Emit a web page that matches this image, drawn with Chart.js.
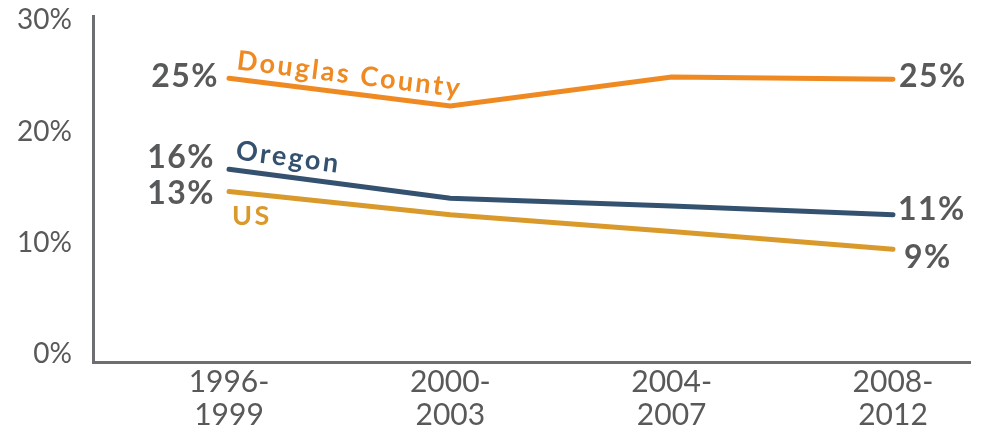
<!DOCTYPE html>
<html>
<head>
<meta charset="utf-8">
<title>Douglas County, Oregon and US</title>
<script src="https://cdn.jsdelivr.net/npm/chart.js@4.4.1/dist/chart.umd.min.js"></script>
<style>
  body { margin: 0; background: #fff; }
  #wrap { width: 986px; height: 431px; }
</style>
</head>
<body>
<div id="wrap"><canvas id="line-chart" width="986" height="431"></canvas></div>
<script>
  const periods = [['1996-', '1999'], ['2000-', '2003'], ['2004-', '2007'], ['2008-', '2012']];
  const douglas = [24.8, 22.3, 24.9, 24.7];
  const oregon = [16.6, 14.0, 13.3, 12.5];
  const us = [14.6, 12.5, 11.0, 9.4];
  const firstLabels = [25, 16, 13];
  const lastLabels = [25, 11, 9];
  const yTicks = [0, 10, 20, 30];

  const gray = '#58595b';
  const axisGray = '#6d6e71';
  const family = 'Lato, "DejaVu Sans", sans-serif';

  // text placement relative to the first / last point of each line
  const series = [
    { name: 'Douglas County', color: '#ef8a22', values: douglas, start: [-10, 9], end: [6, 8], nameAt: [7, -9], rotate: true },
    { name: 'Oregon', color: '#34526f', values: oregon, start: [-14, -1], end: [5, 5], nameAt: [6, -10], rotate: true },
    { name: 'US', color: '#d99a2b', values: us, start: [-14, 13], end: [11, 19], nameAt: [3, 34], rotate: false }
  ];

  const lineLabels = {
    id: 'lineLabels',
    afterDatasetsDraw(chart) {
      const ctx = chart.ctx;
      series.forEach((s, i) => {
        const pts = chart.getDatasetMeta(i).data;
        const p0 = pts[0], p1 = pts[1], pn = pts[pts.length - 1];
        ctx.save();
        ctx.fillStyle = gray;
        ctx.font = 'bold 32px ' + family;
        ctx.letterSpacing = '1.5px';
        ctx.textBaseline = 'alphabetic';
        ctx.textAlign = 'right';
        ctx.fillText(firstLabels[i] + '%', p0.x + s.start[0], p0.y + s.start[1]);
        ctx.textAlign = 'left';
        ctx.fillText(lastLabels[i] + '%', pn.x + s.end[0], pn.y + s.end[1]);

        ctx.fillStyle = s.color;
        ctx.font = 'bold 27px ' + family;
        ctx.letterSpacing = '2.5px';
        ctx.translate(p0.x + s.nameAt[0], p0.y + s.nameAt[1]);
        if (s.rotate) ctx.rotate(Math.atan2(p1.y - p0.y, p1.x - p0.x));
        ctx.fillText(s.name, 0, 0);
        ctx.restore();
      });
    }
  };

  new Chart(document.getElementById('line-chart'), {
    type: 'line',
    data: {
      datasets: series.map(s => ({
        label: s.name,
        data: s.values.map((v, i) => ({ x: i, y: v })),
        borderColor: s.color,
        borderWidth: 5,
        borderCapStyle: 'round',
        borderJoinStyle: 'miter',
        pointRadius: 0,
        tension: 0,
        fill: false
      }))
    },
    options: {
      responsive: false,
      animation: false,
      layout: { padding: { top: 16, right: 16, left: 0, bottom: 0 } },
      plugins: { legend: { display: false }, tooltip: { enabled: false } },
      scales: {
        x: {
          type: 'linear',
          min: -0.6145,
          max: 3.348,
          afterBuildTicks: sc => { sc.ticks = periods.map((p, i) => ({ value: i })); },
          afterFit: sc => { sc.height = 69; sc.paddingLeft = 0; sc.paddingRight = 0; },
          ticks: {
            callback: v => periods[v],
            font: { family: family, size: 30, lineHeight: 1.1 },
            color: gray,
            padding: 4,
            maxRotation: 0,
            autoSkip: false
          },
          grid: { display: false, drawTicks: false },
          border: { color: axisGray, width: 3 }
        },
        y: {
          min: -0.75,
          max: 30.4,
          afterBuildTicks: sc => { sc.ticks = yTicks.map(v => ({ value: v })); },
          afterFit: sc => { sc.width = 93; sc.paddingTop = 0; sc.paddingBottom = 0; },
          ticks: {
            callback: v => v + '%',
            font: { family: family, size: 28 },
            color: gray,
            padding: 21
          },
          grid: { display: false, drawTicks: false },
          border: { color: axisGray, width: 3 }
        }
      }
    },
    plugins: [lineLabels]
  });
</script>
</body>
</html>
